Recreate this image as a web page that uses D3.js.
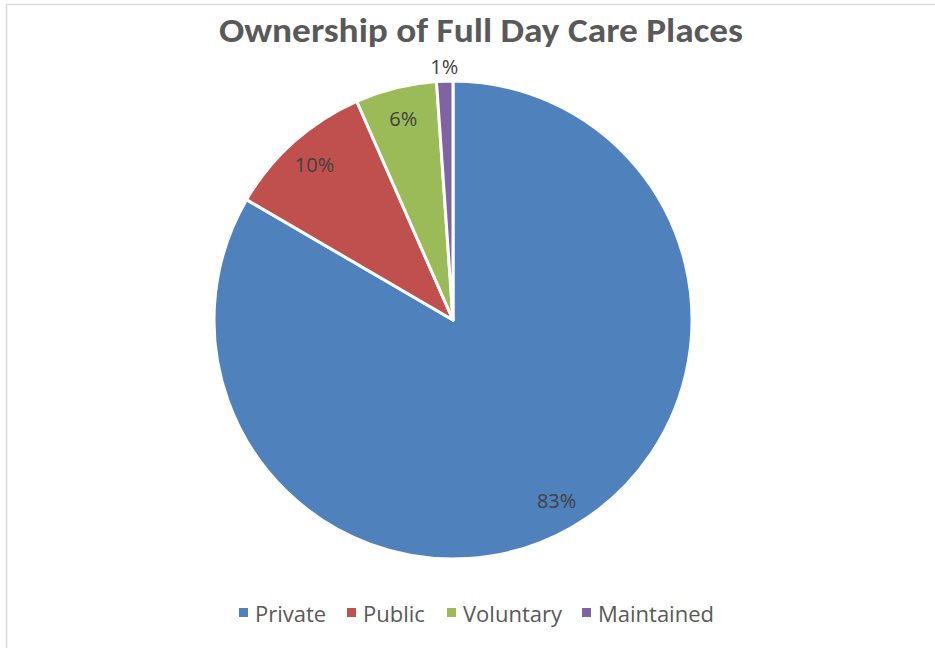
<!DOCTYPE html>
<html>
<head>
<meta charset="utf-8">
<script src="https://cdn.jsdelivr.net/npm/d3@7"></script>
<style>
  body { margin: 0; background: #fff; }
  svg { display: block; }
</style>
</head>
<body>
<div id="chart"></div>
<script>
const categories = ["Private", "Public", "Voluntary", "Maintained"];
const values = [83.4, 10.0, 5.5, 1.1];
const labels = ["83%", "10%", "6%", "1%"];
const colors = ["#4F81BD", "#C0504D", "#9BBB59", "#8064A2"];
const title = "Ownership of Full Day Care Places";

const W = 935, H = 648;
const cx = 453, cy = 320, r = 239;
const titleFont = "Carlito, Calibri, 'Open Sans', sans-serif";
const bodyFont = "'Open Sans', 'Segoe UI', sans-serif";

const svg = d3.select("#chart").append("svg")
  .attr("width", W).attr("height", H);

// chart frame
svg.append("path")
  .attr("d", `M6.5,${H} V4.5 H${W}`)
  .attr("fill", "none")
  .attr("stroke", "#d9d9d9")
  .attr("stroke-width", 1.5);

svg.append("text")
  .attr("x", 481).attr("y", 42)
  .attr("text-anchor", "middle")
  .attr("font-family", titleFont)
  .attr("font-weight", "bold")
  .attr("font-size", 34)
  .attr("fill", "#595959")
  .attr("textLength", 524)
  .attr("lengthAdjust", "spacingAndGlyphs")
  .text(title);

const data = categories.map((c, i) => ({ name: c, value: values[i], label: labels[i], color: colors[i] }));

const pie = d3.pie().sort(null).value((d) => d.value);
const arcs = pie(data);

const arc = d3.arc().innerRadius(0).outerRadius(r);
const labelArc = d3.arc().innerRadius(r * 0.87).outerRadius(r * 0.87);
const outerArc = d3.arc().innerRadius(r * 1.06).outerRadius(r * 1.06);

const g = svg.append("g").attr("transform", `translate(${cx},${cy})`);

g.selectAll("path.slice")
  .data(arcs)
  .join("path")
  .attr("class", "slice")
  .attr("d", arc)
  .attr("fill", (d) => d.data.color)
  .attr("stroke", "#fff")
  .attr("stroke-width", 3)
  .attr("stroke-linejoin", "round");

g.selectAll("text.lbl")
  .data(arcs)
  .join("text")
  .attr("class", "lbl")
  .attr("transform", (d) => {
    const small = d.data.value < 3;
    const [x, y] = (small ? outerArc : labelArc).centroid(d);
    return `translate(${x},${y})`;
  })
  .attr("text-anchor", "middle")
  .attr("dominant-baseline", "central")
  .attr("font-family", bodyFont)
  .attr("font-size", 20)
  .attr("fill", "#404040")
  .text((d) => d.data.label);

// legend
const legendX = [239, 347, 447, 582];
const legend = svg.append("g").attr("transform", "translate(0,612.5)");
const items = legend.selectAll("g")
  .data(data)
  .join("g")
  .attr("transform", (d, i) => `translate(${legendX[i]},0)`);
items.append("rect")
  .attr("x", 0).attr("y", -4.5)
  .attr("width", 9).attr("height", 9)
  .attr("fill", (d) => d.color);
items.append("text")
  .attr("x", 16).attr("y", 0)
  .attr("dominant-baseline", "central")
  .attr("font-family", bodyFont)
  .attr("font-size", 22)
  .attr("fill", "#595959")
  .text((d) => d.name);
</script>
</body>
</html>
